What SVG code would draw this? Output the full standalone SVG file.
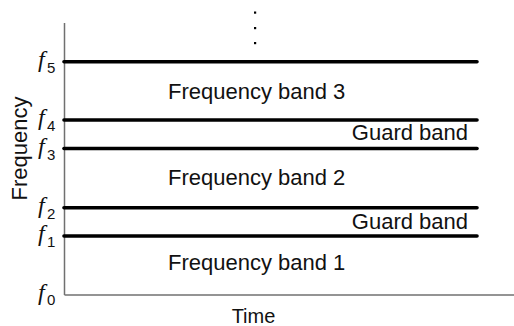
<svg xmlns="http://www.w3.org/2000/svg" width="514" height="326" viewBox="0 0 514 326">
  <style>
    .axis { stroke: #707070; stroke-width: 1.5; fill: none; }
    .edge { stroke: #000; stroke-width: 3.6; stroke-linecap: round; fill: none; }
    .lbl { font-family: "Liberation Sans", Arial, Helvetica, sans-serif; font-size: 22px; fill: #111; }
    .fv { font-family: "Liberation Serif", "Times New Roman", serif; font-style: italic; font-size: 24px; fill: #111; }
    .sub { font-family: "Liberation Sans", Arial, Helvetica, sans-serif; font-size: 15px; fill: #111; }
  </style>

  <!-- axes -->
  <g id="axes">
    <line class="axis" x1="64.5" y1="23" x2="64.5" y2="295"/>
    <line class="axis" x1="64.5" y1="295" x2="514" y2="295"/>
  </g>

  <!-- continuation dots above f5 -->
  <g id="ellipsis" fill="#000">
    <rect x="254" y="11.5" width="2.2" height="2.2"/>
    <rect x="254" y="27" width="2.2" height="2.2"/>
    <rect x="254" y="42" width="2.2" height="2.2"/>
  </g>

  <!-- band boundaries -->
  <g id="connectors">
    <line class="edge" x1="64" y1="61.7" x2="477" y2="61.7"/>
    <line class="edge" x1="64" y1="120" x2="477" y2="120"/>
    <line class="edge" x1="64" y1="148.5" x2="477" y2="148.5"/>
    <line class="edge" x1="64" y1="207.7" x2="477" y2="207.7"/>
    <line class="edge" x1="64" y1="236" x2="477" y2="236"/>
  </g>

  <!-- frequency marks -->
  <g id="f5"><text class="fv" x="38" y="66.5">f</text><text class="sub" x="47" y="72.5">5</text></g>
  <g id="f4"><text class="fv" x="38" y="125">f</text><text class="sub" x="47" y="131">4</text></g>
  <g id="f3"><text class="fv" x="38" y="153.5">f</text><text class="sub" x="47" y="160">3</text></g>
  <g id="f2"><text class="fv" x="38" y="212.5">f</text><text class="sub" x="47" y="218.5">2</text></g>
  <g id="f1"><text class="fv" x="38" y="241">f</text><text class="sub" x="47" y="246.5">1</text></g>
  <g id="f0"><text class="fv" x="38" y="300">f</text><text class="sub" x="47" y="304.5">0</text></g>

  <!-- band labels -->
  <g id="band3"><text class="lbl" x="168" y="99">Frequency band 3</text></g>
  <g id="guard2"><text class="lbl" x="468" y="140" text-anchor="end">Guard band</text></g>
  <g id="band2"><text class="lbl" x="168" y="185">Frequency band 2</text></g>
  <g id="guard1"><text class="lbl" x="468" y="228.5" text-anchor="end">Guard band</text></g>
  <g id="band1"><text class="lbl" x="168" y="270">Frequency band 1</text></g>

  <!-- axis titles -->
  <g id="ylabel"><text class="lbl" transform="translate(27,148.5) rotate(-90)" text-anchor="middle">Frequency</text></g>
  <g id="xlabel"><text class="lbl" x="253.5" y="323" text-anchor="middle" style="font-size:20px">Time</text></g>
</svg>
